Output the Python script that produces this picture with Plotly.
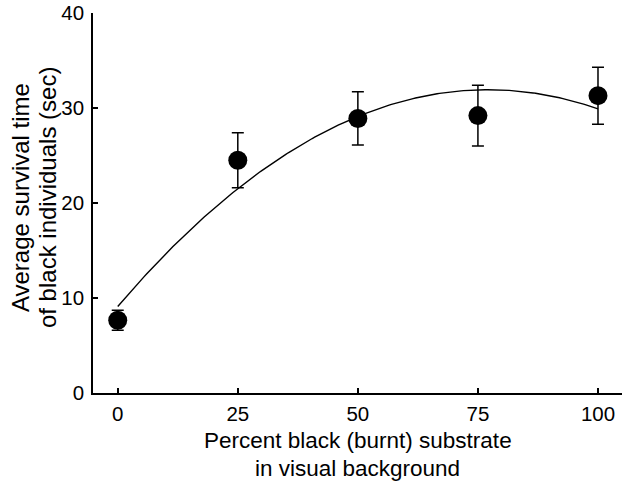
import numpy as np
import plotly.graph_objects as go

# Data
pct_black = [0, 25, 50, 75, 100]
survival_mean = [7.65, 24.5, 28.9, 29.2, 31.3]
err_plus = [1.05, 2.9, 2.8, 3.2, 3.0]
err_minus = [1.05, 2.9, 2.8, 3.2, 3.0]
x_ticks = [0, 25, 50, 75, 100]
y_ticks = [0, 10, 20, 30, 40]
x_title_lines = ["Percent black (burnt) substrate", "in visual background"]
y_title_lines = ["Average survival time", "of black individuals (sec)"]

# Quadratic regression curve fitted to the means
coef = np.polyfit(pct_black, survival_mean, 2)
fit_x = np.linspace(0, 100, 201)
fit_y = np.polyval(coef, fit_x)

FONT = "Liberation Sans, Arial, Helvetica, sans-serif"
TICK_SIZE = 20.5
XTITLE_SIZE = 22.5
YTITLE_SIZE = 24

fig = go.Figure()
fig.add_trace(go.Scatter(
    x=fit_x, y=fit_y, mode="lines",
    line=dict(color="black", width=1.4),
    hoverinfo="skip", showlegend=False,
))
fig.add_trace(go.Scatter(
    x=pct_black, y=survival_mean, mode="markers",
    marker=dict(color="black", size=19, line=dict(width=0)),
    error_y=dict(type="data", array=err_plus, arrayminus=err_minus,
                 color="black", thickness=1.5, width=6, symmetric=False),
    showlegend=False, cliponaxis=False,
))

axis_common = dict(
    showline=True, linecolor="black", linewidth=1.5,
    ticks="inside", ticklen=5, tickwidth=1.5, tickcolor="black",
    showgrid=False, zeroline=False, automargin=False,
    tickfont=dict(family=FONT, size=TICK_SIZE, color="black"),
)

# Axis titles as annotations (pixel offsets from the plot area edges)
annotations = [
    dict(text=x_title_lines[0], xref="paper", yref="paper", x=0.5, y=0,
         xanchor="center", yanchor="middle", yshift=-47, showarrow=False,
         font=dict(family=FONT, size=XTITLE_SIZE, color="black")),
    dict(text=x_title_lines[1], xref="paper", yref="paper", x=0.5, y=0,
         xanchor="center", yanchor="middle", yshift=-75, showarrow=False,
         font=dict(family=FONT, size=XTITLE_SIZE, color="black")),
    dict(text=y_title_lines[0], xref="paper", yref="paper", x=0, y=0.513,
         xanchor="center", yanchor="middle", xshift=-73, showarrow=False,
         textangle=-90, font=dict(family=FONT, size=YTITLE_SIZE, color="black")),
    dict(text=y_title_lines[1], xref="paper", yref="paper", x=0, y=0.513,
         xanchor="center", yanchor="middle", xshift=-46, showarrow=False,
         textangle=-90, font=dict(family=FONT, size=YTITLE_SIZE, color="black")),
]

fig.update_layout(
    width=622, height=483,
    margin=dict(l=93, r=0, t=13, b=90),
    paper_bgcolor="white", plot_bgcolor="white",
    font=dict(family=FONT, color="black"),
    xaxis=dict(
        range=[-5.15, 105], tickvals=x_ticks, ticktext=[str(v) for v in x_ticks],
        ticklabelstandoff=2,
        **axis_common,
    ),
    yaxis=dict(
        range=[0, 40], tickvals=y_ticks, ticktext=[str(v) for v in y_ticks],
        ticklabelstandoff=3,
        **axis_common,
    ),
    annotations=annotations,
)

# Remove the default page margin so the figure starts at the window corner.
fig.write_html("out.html", config={"displayModeBar": False},
               post_script="document.body.style.margin='0';")
